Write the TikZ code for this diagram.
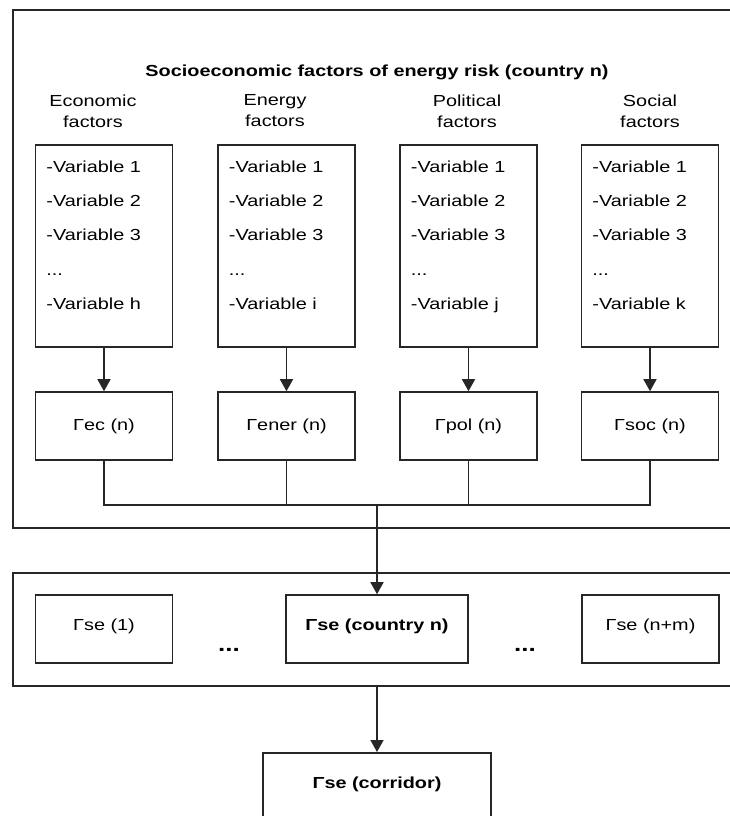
\documentclass[tikz,border=0pt]{standalone}
\usepackage{fontspec}
\setmainfont{Liberation Sans}[FakeStretch=1.24]
\usetikzlibrary{arrows.meta,calc}
\begin{document}
\begin{tikzpicture}[x=1pt,y=-1pt,
  frame/.style={draw=black!85, line width=1.6pt, inner sep=0pt, anchor=north west},
  box/.style={draw=black!85, line width=1.6pt, inner sep=0pt, minimum width=137pt},
  varbox/.style={box, minimum height=202pt},
  rbox/.style={box, minimum height=68pt},
  conn/.style={draw=black!85, line width=1.6pt},
  arr/.style={conn, -{Triangle[length=12pt,width=13pt]}},
  txt/.style={font=\fontsize{16}{21}\selectfont, inner sep=0pt},
  btxt/.style={font=\fontsize{16}{21}\selectfont\bfseries, inner sep=0pt},
  head/.style={font=\fontsize{16}{21}\selectfont, inner sep=0pt, align=center, anchor=north},
  vars/.style={font=\fontsize{16}{34.3}\selectfont, inner sep=0pt, align=left, anchor=north west},
  bigdots/.style={font=\fontsize{21}{24}\selectfont\bfseries, inner sep=0pt, anchor=base}
]
\useasboundingbox (0,0) rectangle (730,816);
\clip (0,0) rectangle (730,816);
\fill[white] (0,0) rectangle (730,816);

% outer frames
\node[frame, minimum width=780pt, minimum height=518pt] (top) at (12,9) {};
\node[frame, minimum width=780pt, minimum height=113pt] (mid) at (12,572) {};

% title
\node[btxt, anchor=base] (title) at (377,77) {Socioeconomic factors of energy risk (country n)};

% headers
\node[head] (hec)  at (93,94.5)  {Economic\\factors};
\node[head] (hen)  at (275,94.5) {Energy\\factors};
\node[head] (hpo)  at (467,94.5) {Political\\factors};
\node[head] (hso)  at (650,94.5) {Social\\factors};

% variable boxes
\node[varbox] (vec) at (104,246)   {};
\node[varbox] (ven) at (286.5,246) {};
\node[varbox] (vpo) at (468.5,246) {};
\node[varbox] (vso) at (650,246)   {};

\node[vars] (tvec) at ($(vec.north west)+(11.5,16.3)$) {-Variable 1\\-Variable 2\\-Variable 3\\...\\-Variable h};
\node[vars] (tven) at ($(ven.north west)+(11.5,16.3)$) {-Variable 1\\-Variable 2\\-Variable 3\\...\\-Variable i};
\node[vars] (tvpo) at ($(vpo.north west)+(11.5,16.3)$) {-Variable 1\\-Variable 2\\-Variable 3\\...\\-Variable j};
\node[vars] (tvso) at ($(vso.north west)+(11.5,16.3)$) {-Variable 1\\-Variable 2\\-Variable 3\\...\\-Variable k};

% risk boxes
\node[rbox] (rec) at (104,426)   {};
\node[rbox] (ren) at (286.5,426) {};
\node[rbox] (rpo) at (468.5,426) {};
\node[rbox] (rso) at (650,426)   {};
\node[txt, anchor=base] (trec) at ($(rec.center)+(0,4)$) {Γec (n)};
\node[txt, anchor=base] (tren) at ($(ren.center)+(0,4)$) {Γener (n)};
\node[txt, anchor=base] (trpo) at ($(rpo.center)+(0,4)$) {Γpol (n)};
\node[txt, anchor=base] (trso) at ($(rso.center)+(0,4)$) {Γsoc (n)};

% arrows variable -> risk
\draw[arr] (vec.south) -- (rec.north);
\draw[arr] (ven.south) -- (ren.north);
\draw[arr] (vpo.south) -- (rpo.north);
\draw[arr] (vso.south) -- (rso.north);

% middle boxes
\node[rbox] (s1) at (104,629) {};
\node[rbox, minimum width=182pt] (sn) at (377,629) {};
\node[rbox] (sm) at (650.5,629) {};
\node[txt, anchor=base] (ts1) at ($(s1.center)+(0,1)$) {Γse (1)};
\node[btxt, anchor=base] (tsn) at ($(sn.center)+(0,1)$) {Γse (country n)};
\node[txt, anchor=base] (tsm) at ($(sm.center)+(0,1)$) {Γse (n+m)};
\node[bigdots] (d1) at (229,651) {...};
\node[bigdots] (d2) at (525,651) {...};

% collector lines
\coordinate (j) at (377,505);
\draw[conn] (rec.south) -- (rec.south |- j) -- (rso.south |- j) -- (rso.south);
\draw[conn] (ren.south) -- (ren.south |- j);
\draw[conn] (rpo.south) -- (rpo.south |- j);
\draw[arr] (j) -- (sn.north);

% corridor
\node[box, minimum width=228pt, minimum height=120pt, anchor=north] (cor) at (377,752) {};
\node[btxt, anchor=base] (tcor) at (377,788) {Γse (corridor)};
\draw[arr] (cor.north |- mid.south) -- (cor.north);
\end{tikzpicture}
\end{document}
